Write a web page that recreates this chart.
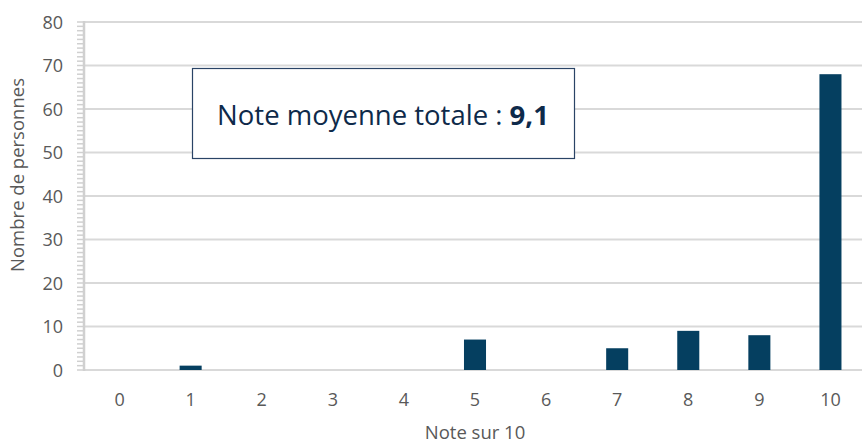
<!DOCTYPE html>
<html>
<head>
<meta charset="utf-8">
<script src="https://cdn.jsdelivr.net/npm/d3@7"></script>
<style>
  body { margin: 0; background: #fff; }
  text { font-family: "Open Sans", sans-serif; }
</style>
</head>
<body>
<div id="chart"></div>
<script>
const notes = ["0", "1", "2", "3", "4", "5", "6", "7", "8", "9", "10"];
const personnes = [0, 1, 0, 0, 0, 7, 0, 5, 9, 8, 68];
const yTicks = [0, 10, 20, 30, 40, 50, 60, 70, 80];
const moyenne = "9,1";

const width = 862;
const height = 446;
const margin = { top: 22, right: -4, bottom: 76, left: 84 };

const svg = d3
  .select("#chart")
  .append("svg")
  .attr("width", width)
  .attr("height", height);

const x = d3
  .scaleBand()
  .domain(notes)
  .range([margin.left, width - margin.right])
  .paddingInner(0.69)
  .paddingOuter(0.345);

const y = d3
  .scaleLinear()
  .domain([0, 80])
  .range([height - margin.bottom, margin.top]);

// gridlines
svg
  .selectAll("line.grid")
  .data(yTicks)
  .join("line")
  .attr("class", "grid")
  .attr("x1", margin.left)
  .attr("x2", width)
  .attr("y1", (d) => y(d))
  .attr("y2", (d) => y(d))
  .attr("stroke", "#d9d9d9")
  .attr("stroke-width", 2);

// minor ticks every unit
svg
  .selectAll("line.minor")
  .data(d3.range(0, 81, 1))
  .join("line")
  .attr("class", "minor")
  .attr("x1", margin.left - 7)
  .attr("x2", margin.left)
  .attr("y1", (d) => y(d))
  .attr("y2", (d) => y(d))
  .attr("stroke", "#d0d0d0")
  .attr("stroke-width", 1.5);

// y axis line
svg
  .append("line")
  .attr("x1", margin.left)
  .attr("x2", margin.left)
  .attr("y1", y(80) - 1)
  .attr("y2", y(0) + 1)
  .attr("stroke", "#d0d0d0")
  .attr("stroke-width", 2.5);

// y tick labels
svg
  .selectAll("text.ytick")
  .data(yTicks)
  .join("text")
  .attr("class", "ytick")
  .attr("x", margin.left - 21)
  .attr("y", (d) => y(d) + 6.5)
  .attr("text-anchor", "end")
  .attr("font-size", 18)
  .attr("fill", "#595959")
  .text((d) => d);

// x tick labels
svg
  .selectAll("text.xtick")
  .data(notes)
  .join("text")
  .attr("class", "xtick")
  .attr("x", (d) => x(d) + x.bandwidth() / 2)
  .attr("y", 406)
  .attr("text-anchor", "middle")
  .attr("font-size", 18)
  .attr("fill", "#595959")
  .text((d) => d);

// bars
svg
  .selectAll("rect.bar")
  .data(notes.map((n, i) => ({ note: n, value: personnes[i] })))
  .join("rect")
  .attr("class", "bar")
  .attr("x", (d) => x(d.note))
  .attr("y", (d) => y(d.value))
  .attr("width", x.bandwidth())
  .attr("height", (d) => y(0) - y(d.value))
  .attr("fill", "#053f60")
  .attr("opacity", (d) => (d.value > 0 ? 1 : 0));

// axis titles
svg
  .append("text")
  .attr("transform", "translate(24,175) rotate(-90)")
  .attr("text-anchor", "middle")
  .attr("font-size", 18.5)
  .attr("fill", "#595959")
  .text("Nombre de personnes");

svg
  .append("text")
  .attr("x", x("5") + x.bandwidth() / 2)
  .attr("y", 439)
  .attr("text-anchor", "middle")
  .attr("font-size", 18.5)
  .attr("fill", "#595959")
  .text("Note sur 10");

// annotation box
svg
  .append("rect")
  .attr("x", 192.5)
  .attr("y", 68.5)
  .attr("width", 382)
  .attr("height", 90)
  .attr("fill", "#fff")
  .attr("stroke", "#2a4466")
  .attr("stroke-width", 1.2);

const label = svg
  .append("text")
  .attr("x", 383)
  .attr("y", 125)
  .attr("text-anchor", "middle")
  .attr("font-size", 27.5)
  .attr("fill", "#0e2a4a");

label.append("tspan").text("Note moyenne totale : ");
label.append("tspan").attr("font-weight", 700).text(moyenne);
</script>
</body>
</html>
